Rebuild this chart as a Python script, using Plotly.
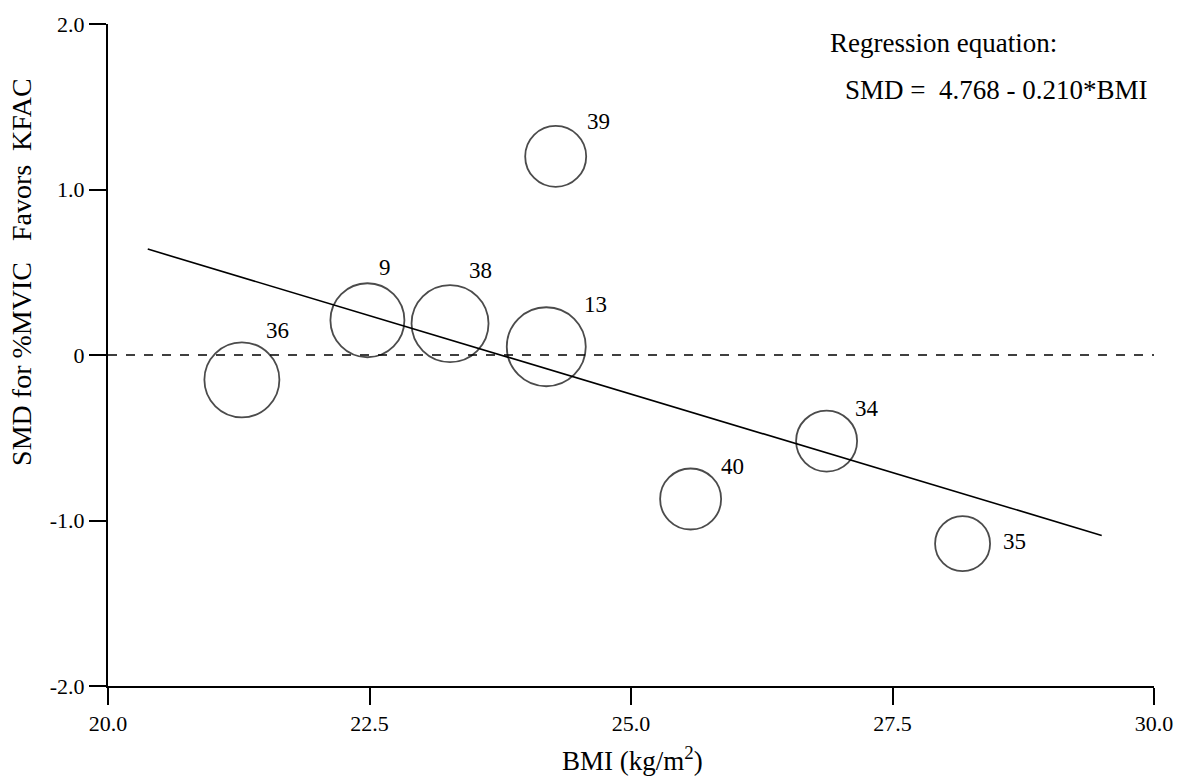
import plotly.graph_objects as go

# ---- data ----
study_ids = ["36", "9", "38", "13", "39", "40", "34", "35"]
bmi = [21.28, 22.48, 23.27, 24.19, 24.28, 25.57, 26.87, 28.17]
smd = [-0.15, 0.21, 0.19, 0.05, 1.20, -0.87, -0.52, -1.14]
study_weight = [75, 74, 77, 79, 61, 61, 61, 55]   # bubble diameter (px)

reg_x = [20.38, 29.50]
reg_y = [0.64, -1.09]

x_ticks = [20.0, 22.5, 25.0, 27.5, 30.0]
x_ticktext = ["20.0", "22.5", "25.0", "27.5", "30.0"]
y_ticks = [2.0, 1.0, 0.0, -1.0, -2.0]
y_ticktext = ["2.0", "1.0", "0", "-1.0", "-2.0"]

# label offsets (style, px from bubble centre)
label_dx = [22, 10, 17, 36, 29, 28, 26, 38]
label_dy = [49, 53, 53, 42, 35, 32, 33, 2]

FONT = "Liberation Serif, Times New Roman, serif"

fig = go.Figure()

fig.add_shape(type="line", xref="x", yref="y", x0=20, x1=30, y0=0, y1=0,
              line=dict(color="black", width=1.3, dash="dash"), layer="below")

fig.add_trace(go.Scatter(x=reg_x, y=reg_y, mode="lines",
                         line=dict(color="black", width=1.6),
                         hoverinfo="skip", showlegend=False))

fig.add_trace(go.Scatter(x=bmi, y=smd, mode="markers",
                         marker=dict(size=study_weight, color="rgba(0,0,0,0)",
                                     line=dict(color="black", width=1.8)),
                         showlegend=False, cliponaxis=False))

for xi, yi, s, dx, dy in zip(bmi, smd, study_ids, label_dx, label_dy):
    fig.add_annotation(x=xi, y=yi, xref="x", yref="y", text=s, showarrow=False,
                       xanchor="left", yanchor="middle", xshift=dx, yshift=dy,
                       font=dict(family=FONT, size=23, color="black"))

fig.add_annotation(xref="paper", yref="paper", x=(828 - 108) / 1046, y=(686 - 40) / 665,
                   text="Regression equation:", showarrow=False, xanchor="left",
                   yanchor="middle", font=dict(family=FONT, size=27, color="black"))
fig.add_annotation(xref="paper", yref="paper", x=(843 - 108) / 1046, y=(686 - 87) / 665,
                   text="SMD =  4.768 - 0.210*BMI", showarrow=False, xanchor="left",
                   yanchor="middle", font=dict(family=FONT, size=27, color="black"))

fig.add_annotation(xref="paper", yref="paper", x=(632 - 108) / 1046, y=-(759 - 686) / 665,
                   text="BMI (kg/m<sup>2</sup>)", showarrow=False, xanchor="center",
                   yanchor="middle", font=dict(family=FONT, size=27, color="black"))
fig.add_annotation(xref="paper", yref="paper", x=(22 - 108) / 1046, y=(686 - 270) / 665,
                   text="SMD for %MVIC   Favors  KFAC", showarrow=False, textangle=-90,
                   xanchor="center", yanchor="middle",
                   font=dict(family=FONT, size=28, color="black"))

axis_common = dict(showgrid=False, zeroline=False, showline=True, linecolor="black",
                   linewidth=2, ticks="outside", ticklen=17, tickwidth=2,
                   tickcolor="black", tickfont=dict(family=FONT, size=22, color="black"))

fig.update_xaxes(range=[20, 30], tickvals=x_ticks, ticktext=x_ticktext, **axis_common)
fig.update_yaxes(range=[-2, 2], tickvals=y_ticks, ticktext=y_ticktext, **axis_common)

fig.update_layout(width=1190, height=778,
                  margin=dict(l=108, r=36, t=21, b=92),
                  plot_bgcolor="white", paper_bgcolor="white",
                  font=dict(family=FONT, color="black"))

fig.write_html("out.html")
